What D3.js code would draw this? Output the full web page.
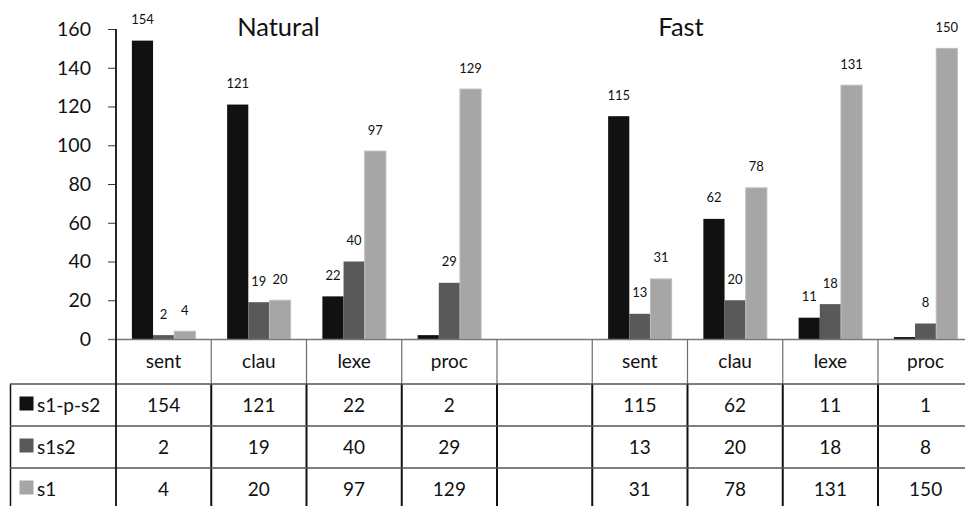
<!DOCTYPE html>
<html>
<head>
<meta charset="utf-8">
<script src="https://cdn.jsdelivr.net/npm/d3@7"></script>
<style>
  html, body { margin: 0; padding: 0; background: #fff; }
  svg { display: block; font-family: Lato, "Open Sans", sans-serif; }
</style>
</head>
<body>
<svg id="chart" width="965" height="506"></svg>
<script>
// ---- data ----
const groups = ["Natural", "Fast"];
const categories = ["sent", "clau", "lexe", "proc"];
const seriesNames = ["s1-p-s2", "s1s2", "s1"];
const naturalValues = {
  "s1-p-s2": [154, 121, 22, 2],
  "s1s2": [2, 19, 40, 29],
  "s1": [4, 20, 97, 129]
};
const fastValues = {
  "s1-p-s2": [115, 62, 11, 1],
  "s1s2": [13, 20, 18, 8],
  "s1": [31, 78, 131, 150]
};
const yTicks = [0, 20, 40, 60, 80, 100, 120, 140, 160];
const hiddenLabels = [["Natural", "proc", "s1-p-s2"], ["Fast", "proc", "s1-p-s2"]];

// ---- layout ----
const colors = {"s1-p-s2": "#111111", "s1s2": "#595959", "s1": "#a6a6a6"};
const axisX = 116, y0 = 339, yTop = 29, colW = 95.25;
const rowTops = [384, 426, 468, 510];

// columns: 4 Natural, 1 blank, 4 Fast
const columns = [];
groups.forEach((g, gi) => {
  categories.forEach((c, ci) => columns.push({key: g + "|" + c, group: g, cat: c, idx: ci}));
  if (gi === 0) columns.push({key: "blank", group: null, cat: "", idx: -1});
});
const valuesByGroup = {"Natural": naturalValues, "Fast": fastValues};

const svg = d3.select("#chart");
const x = d3.scaleBand().domain(columns.map(d => d.key)).range([axisX, axisX + colW * columns.length]).padding(0);
const xs = d3.scaleBand().domain(seriesNames).range([0, x.bandwidth()]).paddingInner(0).paddingOuter(0.75);
const y = d3.scaleLinear().domain([0, 160]).range([y0, yTop]);

// y axis
const yAxis = d3.axisLeft(y).tickValues(yTicks).tickSize(8).tickPadding(17);
const ya = svg.append("g").attr("transform", `translate(${axisX},0)`).call(yAxis);
ya.select(".domain").remove();
ya.selectAll(".tick line").attr("stroke", "#333").attr("stroke-width", 1);
ya.selectAll(".tick text").attr("font-size", 19.5).attr("fill", "#111").attr("font-family", "Lato");

// bars
const barData = [];
columns.filter(c => c.group).forEach(c => {
  seriesNames.forEach(s => {
    barData.push({col: c, series: s, value: valuesByGroup[c.group][s][c.idx]});
  });
});
svg.append("g").selectAll("rect").data(barData).join("rect")
  .attr("x", d => x(d.col.key) + xs(d.series))
  .attr("width", xs.bandwidth())
  .attr("y", d => y(d.value))
  .attr("height", d => y0 - y(d.value))
  .attr("fill", d => colors[d.series])
  .attr("stroke", d => d.series === "s1" ? "#bdbdbd" : "none")
  .attr("stroke-width", 1);

// data labels
const isHidden = d => hiddenLabels.some(h => h[0] === d.col.group && h[1] === d.col.cat && h[2] === d.series);
svg.append("g").selectAll("text").data(barData.filter(d => !isHidden(d))).join("text")
  .attr("x", d => x(d.col.key) + xs(d.series) + xs.bandwidth() / 2)
  .attr("y", d => y(d.value) - 16.5)
  .attr("text-anchor", "middle")
  .attr("font-size", 13)
  .attr("fill", "#111")
  .text(d => d.value);

// group titles
const titlePos = {"Natural": 278.5, "Fast": 681};
svg.append("g").selectAll("text").data(groups).join("text")
  .attr("x", d => titlePos[d])
  .attr("y", 36)
  .attr("text-anchor", "middle")
  .attr("font-size", 25.5)
  .attr("fill", "#111")
  .text(d => d);

// ---- data table ----
const tbl = svg.append("g");
const rightEdge = axisX + colW * columns.length;
// header vertical separators (thin gray)
tbl.selectAll("line.hv").data(columns.slice(1)).join("line")
  .attr("x1", d => x(d.key)).attr("x2", d => x(d.key))
  .attr("y1", y0).attr("y2", rowTops[0])
  .attr("stroke", "#6b6b6b").attr("stroke-width", 1.2);
// body vertical separators (black)
tbl.selectAll("line.bv").data(columns.slice(1)).join("line")
  .attr("x1", d => x(d.key)).attr("x2", d => x(d.key))
  .attr("y1", rowTops[0]).attr("y2", 506)
  .attr("stroke", "#111").attr("stroke-width", 2);
// left edge of table
tbl.append("line").attr("x1", 10.5).attr("x2", 10.5).attr("y1", rowTops[0]).attr("y2", 506)
  .attr("stroke", "#111").attr("stroke-width", 1.5);
// horizontal lines
tbl.selectAll("line.h").data(rowTops.slice(0, 3)).join("line")
  .attr("x1", 10).attr("x2", rightEdge)
  .attr("y1", d => d).attr("y2", d => d)
  .attr("stroke", "#555").attr("stroke-width", 1.5);
// category axis line
tbl.append("line").attr("x1", axisX - 8).attr("x2", rightEdge).attr("y1", y0 + 0.5).attr("y2", y0 + 0.5)
  .attr("stroke", "#777").attr("stroke-width", 1.5);
// y axis line
tbl.append("line").attr("x1", axisX).attr("x2", axisX).attr("y1", yTop).attr("y2", 506)
  .attr("stroke", "#111").attr("stroke-width", 1.8);

// category labels
tbl.selectAll("text.cat").data(columns.filter(c => c.group)).join("text")
  .attr("x", d => x(d.key) + x.bandwidth() / 2)
  .attr("y", (y0 + rowTops[0]) / 2)
  .attr("dy", "0.35em")
  .attr("text-anchor", "middle")
  .attr("font-size", 19)
  .attr("fill", "#111")
  .text(d => d.cat);

// rows
seriesNames.forEach((s, si) => {
  const top = rowTops[si], mid = (rowTops[si] + rowTops[si + 1]) / 2;
  tbl.append("rect").attr("x", 19.5).attr("y", mid - 8.5).attr("width", 14).attr("height", 14)
    .attr("fill", colors[s]);
  tbl.append("text").attr("x", 37).attr("y", mid).attr("dy", "0.35em")
    .attr("font-size", 19).attr("fill", "#111").text(s);
  columns.filter(c => c.group).forEach(c => {
    tbl.append("text")
      .attr("x", x(c.key) + x.bandwidth() / 2)
      .attr("y", mid)
      .attr("dy", "0.35em")
      .attr("text-anchor", "middle")
      .attr("font-size", 19)
      .attr("fill", "#111")
      .text(valuesByGroup[c.group][s][c.idx]);
  });
});
</script>
</body>
</html>
